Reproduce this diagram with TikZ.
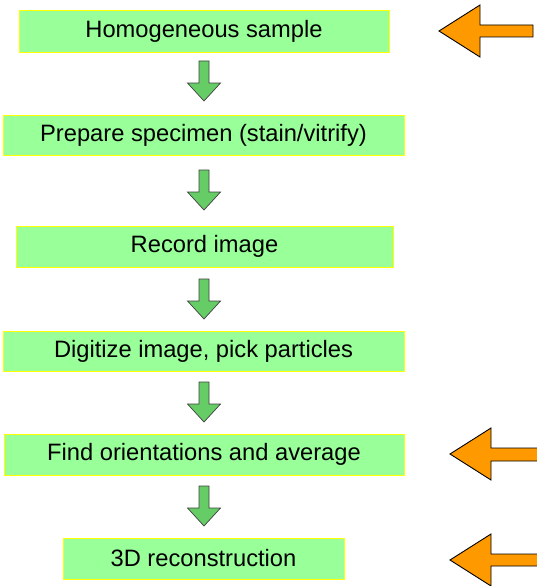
\documentclass[tikz,border=0pt]{standalone}
\usepackage{fontspec}
\setmainfont{Liberation Sans}
\definecolor{boxgreen}{HTML}{99FF99}
\definecolor{boxedge}{HTML}{FFFF00}
\definecolor{arrgreen}{HTML}{66CC66}
\definecolor{arrorange}{HTML}{FF9900}
\tikzset{
  stepbox/.style={draw=boxedge, fill=boxgreen, line width=0.8pt, inner sep=0pt,
    minimum height=41pt, font=\fontsize{23.7}{28}\selectfont, text=black},
  downarr/.pic={
    \draw[fill=arrgreen, draw=black!75, line width=0.7pt, line join=miter]
      (-5,0) -- (5,0) -- (5,22) -- (16.5,22) -- (0,40) -- (-16.5,22) -- (-5,22) -- cycle;
  },
  leftarr/.style={fill=arrorange, draw=black, line width=0.9pt, line join=miter},
}
\begin{document}
\begin{tikzpicture}[x=1pt, y=-1pt]
\useasboundingbox (0,0) rectangle (537,586);
\clip (0,0) rectangle (537,586);
% step boxes
\node[stepbox, minimum width=370pt, minimum height=42pt] (b1) at (204,31) {Homogeneous sample};
\node[stepbox, minimum width=401pt, minimum height=40pt] (b2) at (203.5,135) {Prepare specimen (stain/vitrify)};
\node[stepbox, minimum width=377pt, minimum height=41pt] (b3) at (204.5,246.5) {Record image};
\node[stepbox, minimum width=401pt, minimum height=40pt] (b4) at (203.5,351) {Digitize image, pick particles};
\node[stepbox, minimum width=400pt, minimum height=41pt] (b5) at (204,454.5) {Find orientations and average};
\node[stepbox, minimum width=281pt, minimum height=41pt] (b6) at (203.5,558.5) {3D reconstruction};
% green down arrows between boxes
\pic at (204,61) {downarr};
\pic at (204,170) {downarr};
\pic at (204,279) {downarr};
\pic at (204,382) {downarr};
\pic at (204,486) {downarr};
% orange arrows pointing at the boxes
\draw[leftarr] (533,25) -- (480,25) -- (480,5) -- (439,31) -- (480,57) -- (480,37) -- (533,37) -- cycle;
\draw[leftarr] (545,448) -- (491,448) -- (491,428) -- (450,454) -- (491,480) -- (491,461) -- (545,461) -- cycle;
\draw[leftarr] (545,554) -- (491,554) -- (491,534) -- (450,560) -- (491,586) -- (491,566) -- (545,566) -- cycle;
\end{tikzpicture}
\end{document}
